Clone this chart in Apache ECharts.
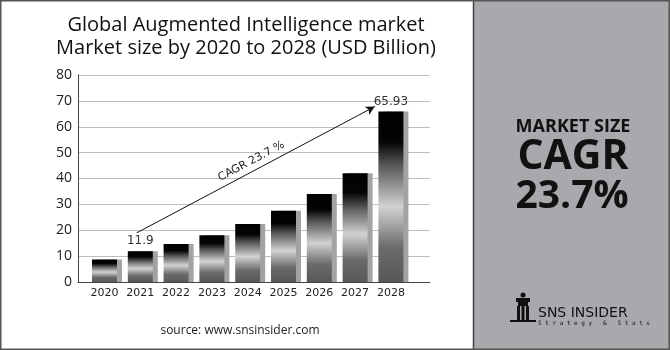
<!DOCTYPE html>
<html><head><meta charset="utf-8">
<script src="https://cdn.jsdelivr.net/npm/echarts@6/dist/echarts.min.js"></script>
<style>html,body{margin:0;padding:0;background:#fff}#c{width:670px;height:350px}</style>
</head><body><div id="c"></div>
<script>
const years = ['2020','2021','2022','2023','2024','2025','2026','2027','2028'];
const marketSize = [8.7, 11.9, 14.7, 18.1, 22.4, 27.5, 34.0, 42.0, 65.93];
const labelledYears = ['2021','2028'];
const yTicks = {min: 0, max: 80, interval: 10};
const titleLines = ['Global Augmented Intelligence market', 'Market size by 2020 to 2028 (USD Billion)'];
const cagrText = 'CAGR 23.7 %';
const sourceText = 'source: www.snsinsider.com';

const chart = echarts.init(document.getElementById('c'), null, {renderer: 'canvas'});
const FONT = 'Open Sans';
const barGrad = new echarts.graphic.LinearGradient(0, 0, 0, 1, [
  {offset: 0, color: '#000'},
  {offset: 0.18, color: '#050505'},
  {offset: 0.32, color: '#5a5a5a'},
  {offset: 0.56, color: '#d2d2d2'},
  {offset: 0.8, color: '#6a6a6a'},
  {offset: 1, color: '#585858'}
]);
chart.setOption({
  animation: false,
  backgroundColor: '#fff',
  title: {
    text: titleLines.join('\n'), left: 241, top: 9, textAlign: 'center',
    textStyle: {fontFamily: FONT, fontSize: 20, fontWeight: 'normal', color: '#111', lineHeight: 23}
  },
  grid: [
    {left: 78, right: 240, top: 75, bottom: 68},
    {left: 86.6, right: 261.2, top: 75, bottom: 68}
  ],
  xAxis: [
    {gridIndex: 0, type: 'value', min: 0, max: 1, show: true,
     axisLine: {show: true, lineStyle: {color: '#444', width: 1}}, axisTick: {show: false},
     axisLabel: {show: false}, splitLine: {show: false}},
    {gridIndex: 1, type: 'category', data: years, boundaryGap: true,
     axisLine: {show: false}, axisTick: {show: false},
     axisLabel: {interval: 0, fontFamily: 'DejaVu Sans', fontSize: 11, color: '#222', margin: 6}},
    {gridIndex: 1, type: 'value', min: -0.5, max: 8.5, show: false}
  ],
  yAxis: [
    {gridIndex: 0, type: 'value', min: yTicks.min, max: yTicks.max, interval: yTicks.interval,
     axisLine: {show: true, lineStyle: {color: '#444'}}, axisTick: {show: false},
     axisLabel: {fontFamily: FONT, fontSize: 14, color: '#222', margin: 6},
     splitLine: {lineStyle: {color: '#bdbdbd', width: 1}}},
    {gridIndex: 1, type: 'value', min: yTicks.min, max: yTicks.max, interval: yTicks.interval, show: false}
  ],
  series: [
    {
      type: 'bar', xAxisIndex: 1, yAxisIndex: 1, data: marketSize, barWidth: 25,
      itemStyle: {color: barGrad, shadowColor: '#a3a3a3', shadowOffsetX: 5, shadowOffsetY: 0, shadowBlur: 0},
      label: {
        show: true, position: 'top', distance: 4, fontFamily: 'DejaVu Sans', fontSize: 12, color: '#333',
        formatter: p => labelledYears.includes(p.name) ? String(p.value) : ''
      }
    },
    {
      type: 'line', xAxisIndex: 2, yAxisIndex: 1, data: [], symbol: 'none',
      markLine: {
        silent: true, symbol: ['none', 'arrow'], symbolSize: [7, 9],
        lineStyle: {color: '#111', width: 1, type: 'solid'},
        label: {show: true, position: 'middle', formatter: cagrText, fontFamily: 'DejaVu Sans', fontSize: 11, color: '#222', distance: 4},
        data: [[{coord: [0.9, 19]}, {coord: [7.55, 67.8]}]]
      }
    }
  ],
  graphic: [
    {type: 'rect', shape: {x: 473, y: 0, width: 197, height: 350}, style: {fill: '#a8a9ad'}, z: -1},
    {type: 'line', shape: {x1: 473.5, y1: 0, x2: 473.5, y2: 350}, style: {stroke: '#444', lineWidth: 1.5}},
    {type: 'rect', shape: {x: 0.75, y: 0.75, width: 668.5, height: 348.5}, style: {fill: 'none', stroke: '#555', lineWidth: 1.5}},
    {type: 'text', style: {text: sourceText, x: 240, y: 331, align: 'center', verticalAlign: 'middle', font: '12px "Open Sans"', fill: '#222'}},
    {type: 'text', style: {text: 'MARKET SIZE', x: 573, y: 127, align: 'center', verticalAlign: 'middle', font: 'bold 18px "Open Sans"', fill: '#111'}},
    {type: 'text', style: {text: 'CAGR', x: 573, y: 157, align: 'center', verticalAlign: 'middle', font: 'bold 41px "Open Sans"', fill: '#111'}},
    {type: 'text', style: {text: '23.7%', x: 572, y: 197, align: 'center', verticalAlign: 'middle', font: 'bold 39px "Open Sans"', fill: '#111'}},
    {type: 'text', style: {text: 'SNS INSIDER', x: 538, y: 313, align: 'left', verticalAlign: 'middle', font: '14px "DejaVu Sans"', fill: '#111'}},
    {type: 'text', style: {text: 'S t r a t e g y   &   S t a t s', x: 538, y: 323, align: 'left', verticalAlign: 'middle', font: '6px "DejaVu Sans Mono"', fill: '#111'}},
    {type: 'group', children: [
      {type: 'circle', shape: {cx: 523, cy: 295, r: 2.5}, style: {fill: '#111'}},
      {type: 'rect', shape: {x: 516, y: 298, width: 14, height: 4}, style: {fill: '#111'}},
      {type: 'rect', shape: {x: 518, y: 302, width: 10, height: 4}, style: {fill: '#111'}},
      {type: 'rect', shape: {x: 517, y: 306, width: 3, height: 14}, style: {fill: '#111'}},
      {type: 'rect', shape: {x: 521.5, y: 306, width: 3, height: 14}, style: {fill: '#111'}},
      {type: 'rect', shape: {x: 526, y: 306, width: 3, height: 14}, style: {fill: '#111'}},
      {type: 'rect', shape: {x: 510, y: 320, width: 26, height: 2}, style: {fill: '#111'}}
    ]}
  ]
});
</script></body></html>
